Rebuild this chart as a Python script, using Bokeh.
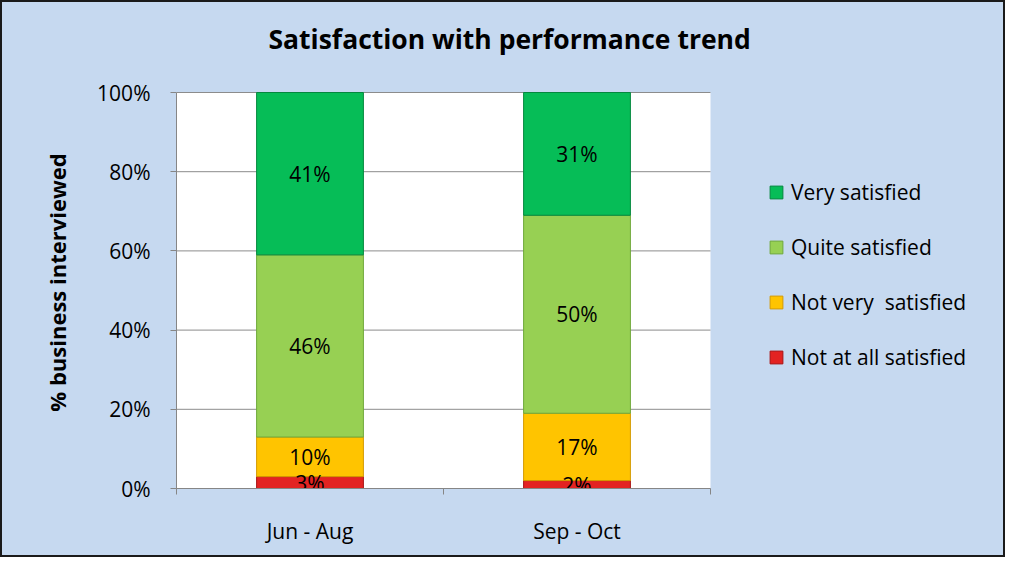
from bokeh.plotting import figure
from bokeh.models import ColumnDataSource, FixedTicker, Range1d, Legend, LegendItem, BoxAnnotation
from bokeh.core.properties import value
from bokeh.embed import file_html
from bokeh.resources import INLINE

# ---- data ----
title = "Satisfaction with performance trend"
categories = ["Jun - Aug", "Sep - Oct"]
series_names = ["Not at all satisfied", "Not very  satisfied", "Quite satisfied", "Very satisfied"]
not_at_all = [3, 2]
not_very = [10, 17]
quite = [46, 50]
very = [41, 31]
y_ticks = [0, 20, 40, 60, 80, 100]

colors = ["#E32322", "#FFC400", "#97D053", "#06BD57"]
edges = ["#A81414", "#D49A00", "#6FA83A", "#04883E"]
BG = "#C6D9F0"
FONT = "Open Sans"
FS = "21px"

# layout constants (pixels, canvas inside a 2px border)
W, H = 1005, 557
LEFT, TOP, BOTTOM = 174, 74, 71
PLOT_TOP = 90                   # top of the white plotting area
FRAME_W = W - LEFT              # frame runs to the right edge (legend lives inside it)
FRAME_H = H - BOTTOM - TOP
PLOT_W = 534                    # width of the white plotting area
PLOT_H = H - BOTTOM - PLOT_TOP

series_vals = [not_at_all, not_very, quite, very]
keys = ["s0", "s1", "s2", "s3"]
N = len(categories)
xpos = [i + 0.5 for i in range(N)]
y_max = y_ticks[-1]

data = {"x": xpos, "cat": categories}
for k, v in zip(keys, series_vals):
    data[k] = v
source = ColumnDataSource(data)

p = figure(width=W, height=H, output_backend="svg", toolbar_location=None,
           x_range=Range1d(0, N * FRAME_W / PLOT_W), y_range=Range1d(0, y_max * FRAME_H / PLOT_H),
           min_border_left=LEFT, min_border_right=0, min_border_top=TOP, min_border_bottom=BOTTOM,
           title=title)
p.styles = {"border": "2px solid #1a1a1a", "background-color": BG}
p.background_fill_color = None
p.border_fill_color = BG
p.outline_line_color = None

p.title.text_font = FONT
p.title.text_font_size = "26.5px"
p.title.text_font_style = "bold"
p.title.align = "left"
p.title.vertical_align = "top"
p.title.offset = 92
p.title.standoff = 36
p.title.text_color = "black"

# white plotting area
p.add_layout(BoxAnnotation(left=0, right=N, bottom=0, top=y_max, fill_color="white",
                           fill_alpha=1, line_color=None, level="underlay"))

# horizontal gridlines limited to plotting area
p.xgrid.grid_line_color = None
p.ygrid.grid_line_color = None
p.segment(x0=[0] * len(y_ticks), x1=[N] * len(y_ticks), y0=y_ticks, y1=y_ticks,
          line_color="#8C8C8C", line_width=1)

renderers = p.vbar_stack(keys, x="x", width=0.4, source=source,
                         fill_color=colors, line_color=edges, line_width=1)

# data labels
bottom = [0] * N
lx, ly, lt = [], [], []
for vals in series_vals:
    for i, v in enumerate(vals):
        lx.append(xpos[i])
        ly.append(bottom[i] + v / 2)
        lt.append(f"{v}%")
        bottom[i] += v
p.text(x=lx, y=ly, text=lt, text_align="center", text_baseline="middle",
       text_font=value(FONT), text_font_size=FS, text_color="black")

# axes
xa = p.xaxis[0]
xa.bounds = (0, N)
xa.ticker = FixedTicker(ticks=xpos, minor_ticks=list(range(N + 1)))
xa.major_label_overrides = {x: c for x, c in zip(xpos, categories)}
xa.major_tick_out = 0
xa.major_tick_in = 0
xa.minor_tick_out = 6
xa.minor_tick_in = 0
xa.minor_tick_line_color = "#868686"
xa.axis_line_color = "#868686"
xa.major_label_text_font = FONT
xa.major_label_text_font_size = FS
xa.major_label_text_color = "black"
xa.major_label_standoff = 22

ya = p.yaxis[0]
ya.bounds = (0, y_max)
ya.ticker = FixedTicker(ticks=y_ticks, minor_ticks=[])
ya.major_label_overrides = {t: f"{t}%" for t in y_ticks}
ya.major_tick_out = 6
ya.major_tick_in = 0
ya.major_tick_line_color = "#868686"
ya.axis_line_color = "#868686"
ya.major_label_text_font = FONT
ya.major_label_text_font_size = FS
ya.major_label_text_color = "black"
ya.major_label_standoff = 20
ya.axis_label = "% business interviewed"
ya.axis_label_text_font = FONT
ya.axis_label_text_font_size = "22px"
ya.axis_label_text_font_style = "bold"
ya.axis_label_text_color = "black"
ya.axis_label_standoff = 22

items = [LegendItem(label=n, renderers=[r]) for n, r in zip(series_names, renderers)][::-1]
legend = Legend(items=items, location=(592, 117), orientation="vertical",
                background_fill_alpha=0, border_line_color=None,
                padding=0, margin=0, spacing=27, glyph_width=16, glyph_height=16,
                label_height=26, label_standoff=7,
                label_text_font=FONT, label_text_font_size="21px", label_text_color="black")
p.add_layout(legend, "center")

open("out.html", "w").write(file_html(p, INLINE))
